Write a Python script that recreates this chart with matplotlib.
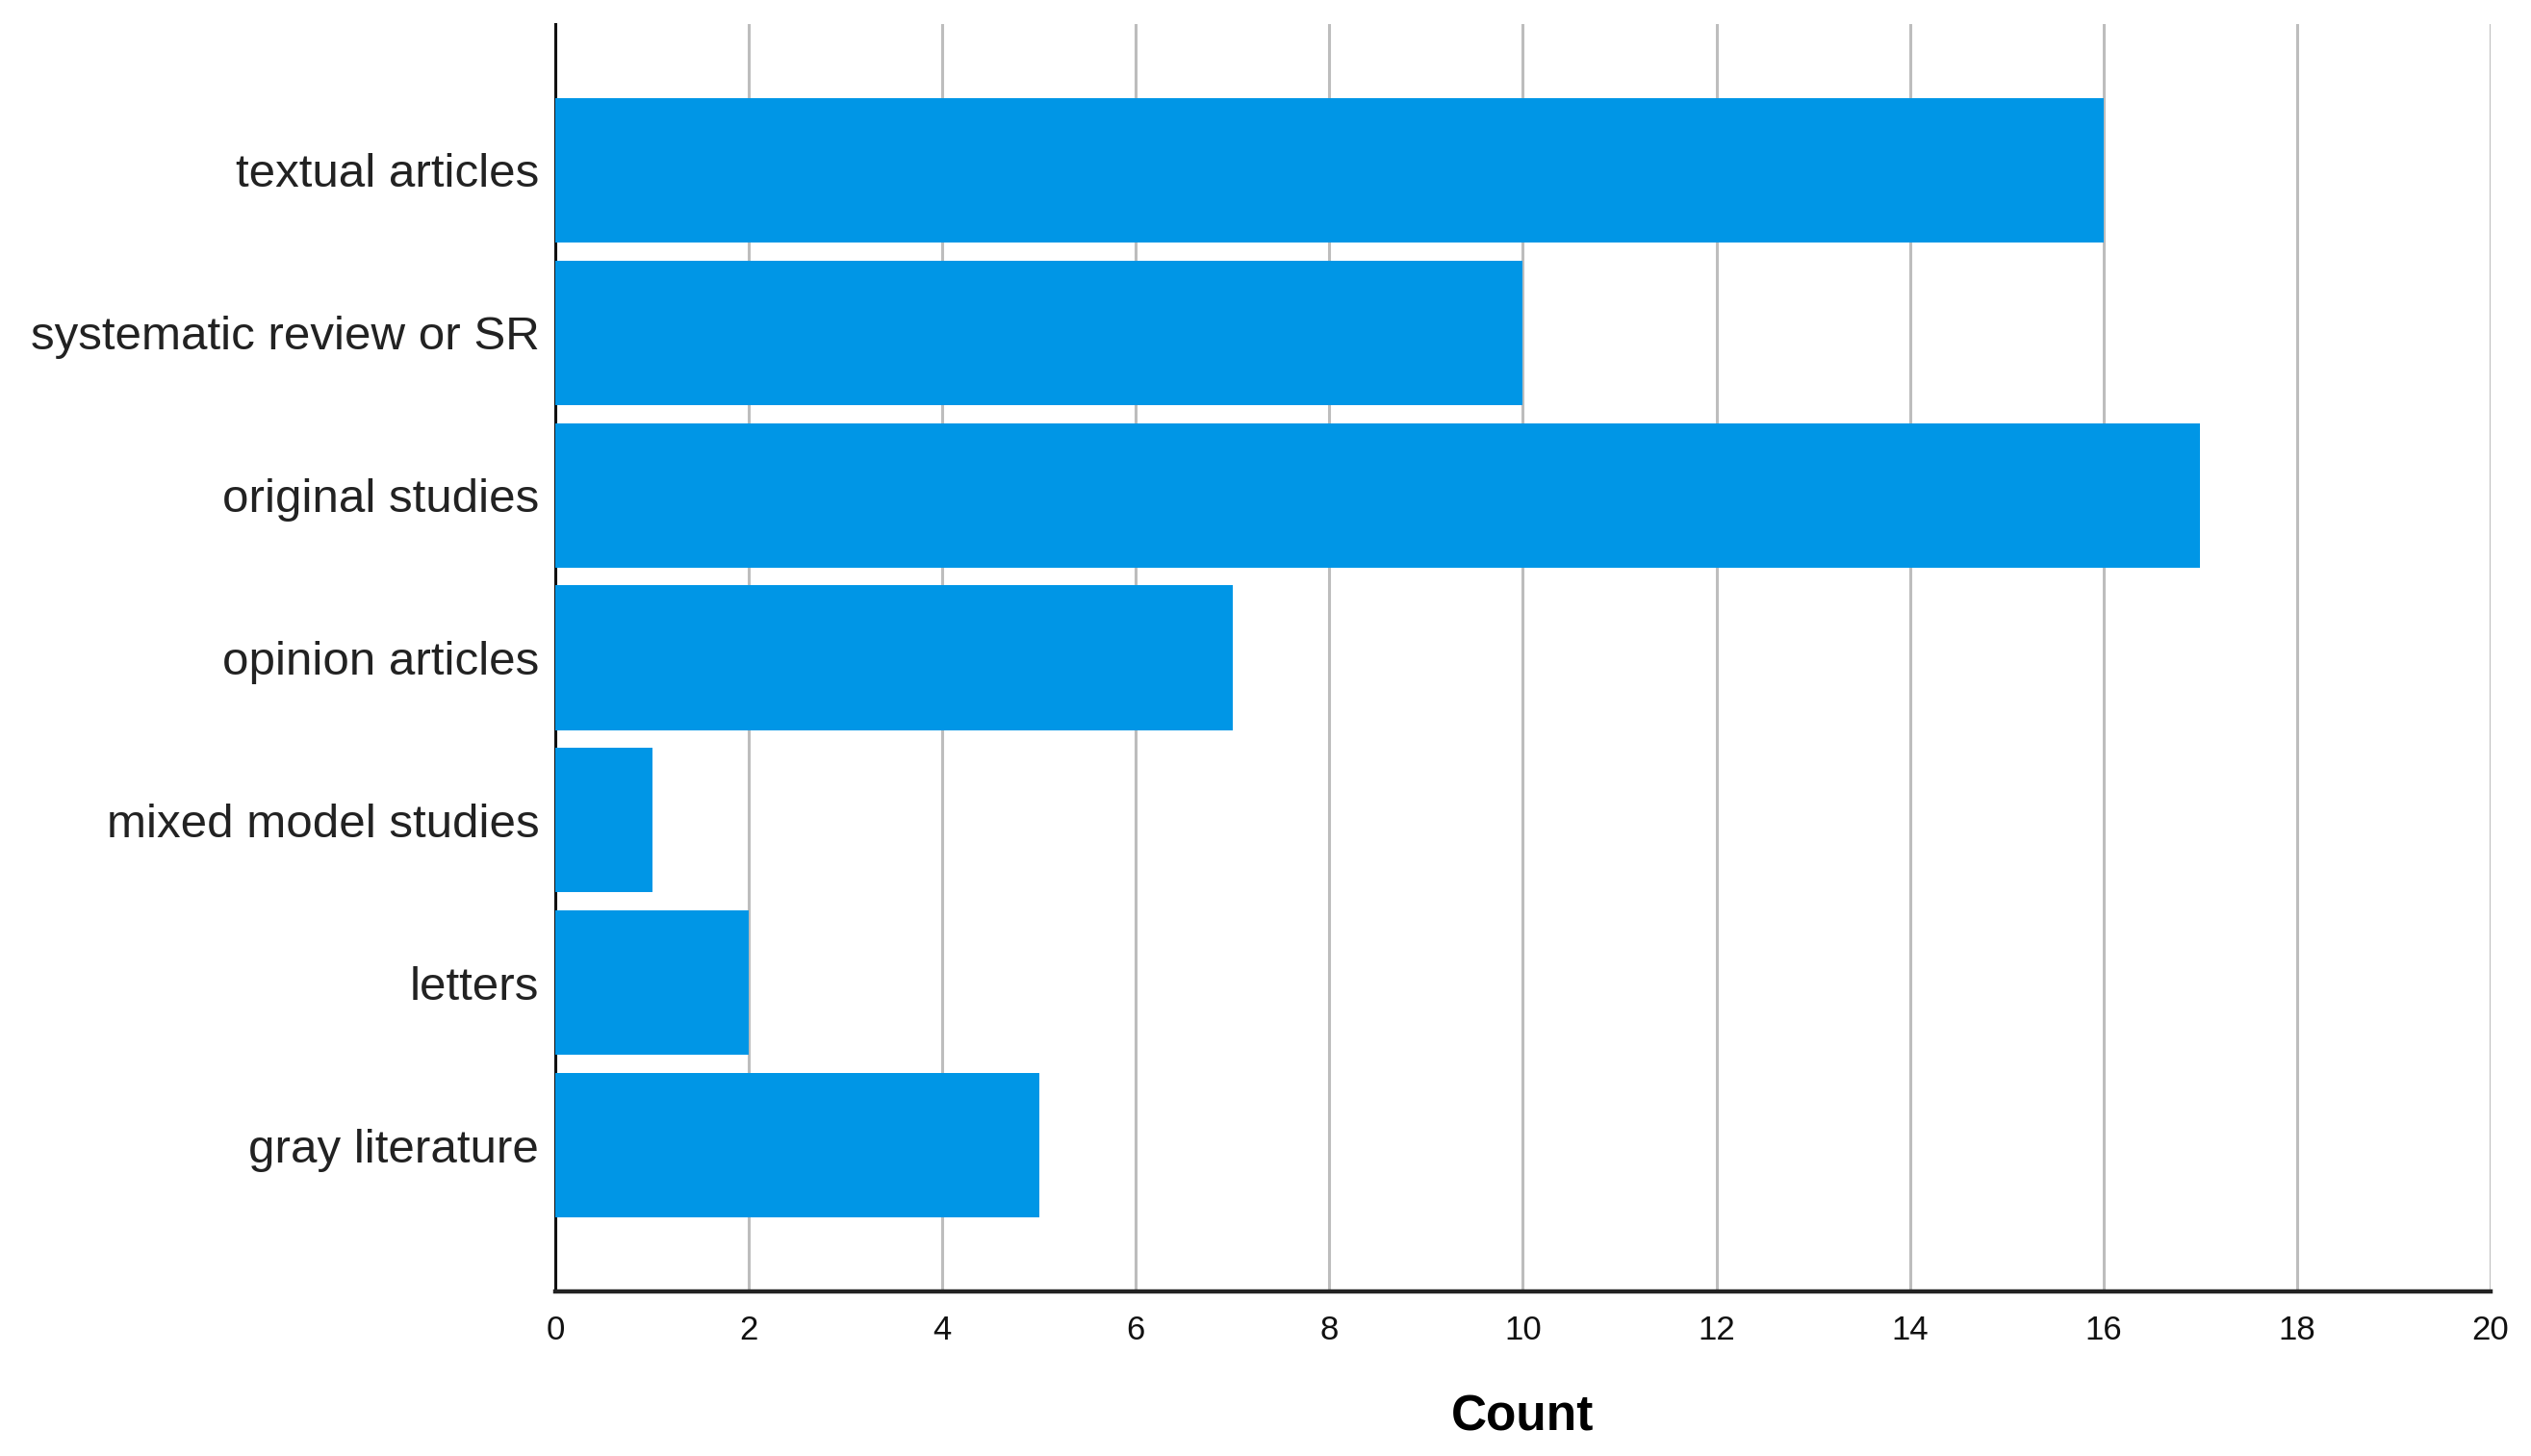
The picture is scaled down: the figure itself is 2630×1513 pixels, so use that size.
import matplotlib.pyplot as plt

# categories from top to bottom
categories = ['textual articles', 'systematic review or SR', 'original studies',
              'opinion articles', 'mixed model studies', 'letters', 'gray literature']
counts = [16, 10, 17, 7, 1, 2, 5]
x_ticks = [0, 2, 4, 6, 8, 10, 12, 14, 16, 18, 20]

plt.rcParams['font.family'] = ['Liberation Sans', 'DejaVu Sans']

fig = plt.figure(figsize=(26.3, 15.13), dpi=100)
ax = fig.add_axes([0.2194, 0.113, 0.7646, 0.8705])

ypos = list(range(len(categories)))
ax.barh(ypos, counts, height=0.89, color='#0096e6', zorder=3)

ax.set_xlim(0, 20)
ax.set_ylim(len(categories) - 1 + 0.9, -0.9)
ax.set_yticks(ypos)
ax.set_yticklabels(categories, fontsize=35.5, color='#222222')
ax.set_xticks(x_ticks)
ax.set_xticklabels([str(t) for t in x_ticks], fontsize=25, color='#111111')

ax.tick_params(axis='y', length=0, pad=12)
ax.tick_params(axis='x', length=0, pad=17)

ax.grid(axis='x', color='#bdbdbd', linewidth=2.2, zorder=0)
ax.set_axisbelow(True)

for side in ['top', 'right']:
    ax.spines[side].set_visible(False)
ax.spines['left'].set_linewidth(2.2)
ax.spines['bottom'].set_linewidth(3.2)
ax.spines['left'].set_color('#111111')
ax.spines['bottom'].set_color('#222222')

ax.set_xlabel('Count', fontsize=37, fontweight='bold', labelpad=36)

fig.savefig('out.png', dpi=100)
